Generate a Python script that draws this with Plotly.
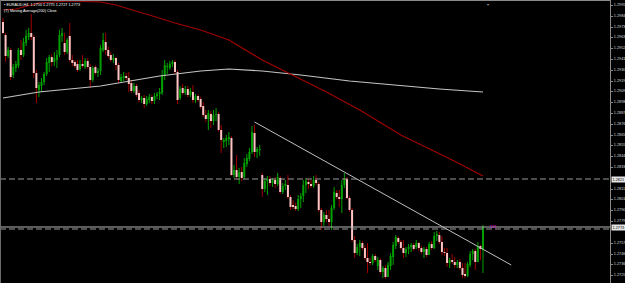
import plotly.graph_objects as go

# ---------------- data (EURAUD candles) ----------------
open_ = [1.2978,1.2965,1.2944,1.2950,1.2925,1.2932,1.2934,1.2950,1.2945,1.2957,1.2963,1.2967,1.2963,1.2927,1.2910,1.2914,1.2918,1.2926,1.2937,1.2943,1.2938,1.2940,1.2945,1.2964,1.2957,1.2948,1.2964,1.2940,1.2938,1.2936,1.2931,1.2936,1.2933,1.2939,1.2933,1.2920,1.2933,1.2927,
         1.2929,1.2950,1.2958,1.2950,1.2945,1.2940,1.2942,1.2935,1.2919,1.2922,1.2924,1.2922,1.2917,1.2909,1.2914,1.2907,1.2900,1.2902,1.2896,1.2900,1.2903,1.2899,1.2904,1.2906,1.2907,1.2924,1.2933,1.2932,1.2936,1.2938,1.2928,1.2902,1.2912,1.2907,1.2911,1.2905,1.2908,1.2900,1.2904,
         1.2901,1.2894,1.2885,1.2881,1.2886,1.2879,1.2885,1.2886,1.2870,1.2858,1.2859,1.2861,1.2862,1.2825,1.2830,1.2823,1.2828,1.2823,1.2836,1.2841,1.2848,1.2867,1.2848,1.2850,
         1.2825,1.2811,1.2819,1.2821,1.2817,1.2820,1.2816,1.2822,1.2808,1.2814,1.2815,1.2803,1.2795,1.2794,1.2791,1.2801,1.2804,1.2815,1.2818,1.2816,1.2814,1.2820,1.2816,1.2790,1.2778,1.2785,1.2781,
         1.2778,1.2792,1.2807,1.2803,1.2801,1.2815,1.2821,1.2802,1.2790,
         1.2760,1.2747,1.2753,1.2757,1.2752,1.2742,1.2738,1.2737,1.2744,1.2734,1.2740,1.2728,1.2732,1.2723,1.2734,1.2743,1.2754,
         1.2762,1.2758,1.2752,1.2747,1.2751,1.2753,1.2755,1.2753,1.2757,1.2752,1.2748,1.2751,1.2745,1.2756,1.2752,
         1.2764,1.2765,1.2758,1.2748,1.2747,1.2737,1.2740,1.2738,1.2735,1.2738,
         1.2732,1.2726,1.2724,1.2735,1.2746,1.2749,1.2738,1.2754,1.2750]

high = [1.2982,1.2967,1.2953,1.2952,1.2936,1.2939,1.2952,1.2960,1.2962,1.2970,1.2972,1.2986,1.2965,1.2930,1.2918,1.2922,1.2928,1.2942,1.2945,1.2946,1.2948,1.2950,1.2970,1.2972,1.2967,1.2962,1.2977,1.2945,1.2940,1.2940,1.2940,1.2945,1.2942,1.2942,1.2936,1.2934,1.2935,1.2932,
        1.2955,1.2967,1.2967,1.2953,1.2948,1.2946,1.2943,1.2937,1.2926,1.2928,1.2927,1.2928,1.2920,1.2917,1.2916,1.2910,1.2904,1.2905,1.2904,1.2906,1.2905,1.2907,1.2908,1.2912,1.2930,1.2940,1.2937,1.2939,1.2940,1.2940,1.2930,1.2914,1.2916,1.2914,1.2914,1.2912,1.2915,1.2906,1.2906,
        1.2903,1.2898,1.2890,1.2890,1.2889,1.2890,1.2892,1.2888,1.2875,1.2862,1.2865,1.2868,1.2864,1.2835,1.2845,1.2832,1.2833,1.2842,1.2846,1.2852,1.2874,1.2875,1.2853,1.2855,
        1.2827,1.2822,1.2824,1.2824,1.2822,1.2823,1.2827,1.2824,1.2817,1.2820,1.2825,1.2805,1.2800,1.2797,1.2805,1.2807,1.2820,1.2822,1.2821,1.2820,1.2824,1.2825,1.2818,1.2792,1.2788,1.2790,1.2790,
        1.2795,1.2813,1.2810,1.2810,1.2820,1.2827,1.2823,1.2804,1.2792,
        1.2764,1.2756,1.2760,1.2759,1.2755,1.2757,1.2742,1.2746,1.2746,1.2743,1.2742,1.2734,1.2735,1.2738,1.2747,1.2758,1.2765,
        1.2764,1.2760,1.2760,1.2753,1.2756,1.2757,1.2757,1.2760,1.2758,1.2754,1.2753,1.2753,1.2758,1.2759,1.2768,
        1.2769,1.2768,1.2764,1.2752,1.2752,1.2742,1.2746,1.2743,1.2740,1.2741,
        1.2737,1.2737,1.2738,1.2749,1.2751,1.2751,1.2758,1.2755,1.2775]

low = [1.2966,1.2938,1.2942,1.2920,1.2922,1.2928,1.2932,1.2940,1.2943,1.2954,1.2960,1.2960,1.2922,1.2897,1.2903,1.2908,1.2915,1.2924,1.2928,1.2934,1.2934,1.2932,1.2943,1.2958,1.2945,1.2946,1.2938,1.2934,1.2932,1.2928,1.2929,1.2932,1.2931,1.2931,1.2912,1.2918,1.2925,1.2923,
       1.2925,1.2948,1.2945,1.2942,1.2938,1.2937,1.2930,1.2917,1.2917,1.2919,1.2920,1.2908,1.2907,1.2907,1.2903,1.2898,1.2897,1.2892,1.2894,1.2897,1.2896,1.2896,1.2901,1.2900,1.2905,1.2920,1.2926,1.2930,1.2933,1.2926,1.2896,1.2900,1.2905,1.2905,1.2903,1.2903,1.2897,1.2897,1.2898,
       1.2891,1.2883,1.2878,1.2870,1.2872,1.2875,1.2879,1.2868,1.2847,1.2852,1.2853,1.2855,1.2824,1.2822,1.2821,1.2816,1.2819,1.2821,1.2833,1.2839,1.2846,1.2843,1.2842,1.2844,
       1.2803,1.2808,1.2805,1.2814,1.2813,1.2812,1.2814,1.2806,1.2806,1.2810,1.2801,1.2790,1.2791,1.2789,1.2789,1.2792,1.2798,1.2807,1.2811,1.2812,1.2812,1.2815,1.2788,1.2770,1.2774,1.2778,1.2774,
       1.2770,1.2790,1.2801,1.2793,1.2787,1.2812,1.2801,1.2788,1.2758,
       1.2742,1.2745,1.2744,1.2750,1.2740,1.2727,1.2735,1.2735,1.2738,1.2730,1.2726,1.2722,1.2721,1.2723,1.2730,1.2735,1.2751,
       1.2756,1.2750,1.2742,1.2743,1.2746,1.2748,1.2749,1.2751,1.2749,1.2746,1.2742,1.2743,1.2745,1.2750,1.2751,
       1.2759,1.2756,1.2745,1.2744,1.2733,1.2732,1.2736,1.2732,1.2732,1.2730,
       1.2722,1.2722,1.2723,1.2733,1.2740,1.2730,1.2738,1.2740,1.2727]

close = [1.2967,1.2944,1.2950,1.2923,1.2933,1.2936,1.2950,1.2945,1.2958,1.2964,1.2967,1.2963,1.2927,1.2912,1.2915,1.2918,1.2926,1.2938,1.2943,1.2938,1.2942,1.2945,1.2965,1.2967,1.2948,1.2960,1.2940,1.2937,1.2934,1.2930,1.2936,1.2934,1.2939,1.2933,1.2920,1.2932,1.2927,1.2929,
         1.2952,1.2960,1.2950,1.2944,1.2940,1.2942,1.2935,1.2920,1.2923,1.2924,1.2922,1.2916,1.2909,1.2914,1.2905,1.2900,1.2902,1.2896,1.2901,1.2903,1.2899,1.2904,1.2906,1.2908,1.2925,1.2935,1.2934,1.2936,1.2938,1.2928,1.2900,1.2911,1.2907,1.2911,1.2905,1.2909,1.2900,1.2904,1.2900,
         1.2893,1.2885,1.2881,1.2887,1.2879,1.2885,1.2886,1.2870,1.2860,1.2860,1.2862,1.2863,1.2825,1.2830,1.2823,1.2828,1.2822,1.2837,1.2842,1.2848,1.2868,1.2848,1.2851,1.2851,
         1.2811,1.2819,1.2821,1.2817,1.2820,1.2816,1.2823,1.2808,1.2814,1.2816,1.2803,1.2793,1.2793,1.2791,1.2801,1.2804,1.2815,1.2819,1.2816,1.2814,1.2820,1.2817,1.2790,1.2778,1.2785,1.2781,1.2778,
         1.2792,1.2808,1.2803,1.2801,1.2815,1.2821,1.2802,1.2790,1.2760,
         1.2747,1.2753,1.2757,1.2752,1.2742,1.2738,1.2737,1.2744,1.2740,1.2740,1.2728,1.2732,1.2723,1.2735,1.2744,1.2755,1.2763,
         1.2758,1.2752,1.2747,1.2751,1.2753,1.2755,1.2751,1.2757,1.2752,1.2748,1.2751,1.2745,1.2756,1.2752,1.2764,
         1.2766,1.2758,1.2748,1.2747,1.2737,1.2740,1.2738,1.2735,1.2738,1.2732,
         1.2725,1.2724,1.2736,1.2746,1.2749,1.2738,1.2754,1.2751,1.2773]

# moving averages (vertices at bar indices)
red_ma_idx = [0, 5, 14, 26, 38, 44, 57, 67, 77, 88, 101, 111, 120, 126, 139, 155, 175, 187]
red_ma = [1.2990, 1.2991, 1.2997, 1.2999, 1.2998, 1.2995, 1.2985, 1.2977, 1.2970, 1.2960,
          1.2940, 1.2927, 1.2915, 1.2908, 1.2890, 1.2865, 1.2840, 1.2824]
gray_ma_idx = [0, 14, 38, 61, 77, 88, 101, 116, 135, 155, 170, 187]
gray_ma = [1.2902, 1.2908, 1.2914, 1.2924, 1.2929, 1.2931, 1.2929, 1.2925, 1.2919, 1.2914, 1.2911, 1.2908]

# trendline and horizontal levels
trend_idx = [98, 198]
trend_price = [1.2878, 1.2735]
levels = [1.2821, 1.2771]
level_labels = ["1.2821", "1.2773"]

# price scale labels
tick_vals = [1.2995, 1.2984, 1.2973, 1.2963, 1.2952, 1.2941, 1.2930, 1.2919, 1.2909, 1.2898,
             1.2887, 1.2876, 1.2865, 1.2855, 1.2844, 1.2833, 1.2811, 1.2801, 1.2790, 1.2779,
             1.2757, 1.2746, 1.2736, 1.2725]
header_1 = "▪ EURAUD,H4  1.2750 1.2775 1.2727 1.2773"
header_2 = "(T) Moving Average(200) Close"

# ---------------- build ----------------
BULL = "#00a000"
BEAR_WICK = "#a00000"
BEAR_BODY = "#ffc4c4"

bw_x, bw_y, rw_x, rw_y = [], [], [], []
bb_x, bb_y, rb_x, rb_y = [], [], [], []
for i in range(len(close)):
    o, h, l, c = open_[i], high[i], low[i], close[i]
    if c >= o:
        bw_x += [i, i, None]; bw_y += [l, h, None]
        bb_x += [i, i, None]; bb_y += [o, c, None]
    else:
        rw_x += [i, i, None]; rw_y += [l, h, None]
        rb_x += [i, i, None]; rb_y += [o, c, None]

fig = go.Figure()
fig.add_trace(go.Scatter(x=rw_x, y=rw_y, mode="lines", line=dict(color=BEAR_WICK, width=1), hoverinfo="skip"))
fig.add_trace(go.Scatter(x=bw_x, y=bw_y, mode="lines", line=dict(color=BULL, width=1), hoverinfo="skip"))
fig.add_trace(go.Scatter(x=rb_x, y=rb_y, mode="lines", line=dict(color=BEAR_BODY, width=2), hoverinfo="skip"))
fig.add_trace(go.Scatter(x=bb_x, y=bb_y, mode="lines", line=dict(color=BULL, width=2), hoverinfo="skip"))
fig.add_trace(go.Scatter(x=gray_ma_idx, y=gray_ma, mode="lines", line=dict(color="#c4c4c4", width=1.2)))
fig.add_trace(go.Scatter(x=red_ma_idx, y=red_ma, mode="lines", line=dict(color="#a00000", width=1.2)))
fig.add_trace(go.Scatter(x=trend_idx, y=trend_price, mode="lines", line=dict(color="#bfbfbf", width=1)))

shapes = []
for lv in levels:
    shapes.append(dict(type="line", xref="paper", x0=0, x1=1, yref="y", y0=lv, y1=lv,
                       line=dict(color="#9a9a9a", width=1, dash="6px,3px")))
shapes.append(dict(type="line", xref="paper", x0=0, x1=1, yref="y", y0=close[-1], y1=close[-1],
                   line=dict(color="#b8b8b8", width=1)))
shapes.append(dict(type="line", xref="paper", x0=0, x1=1, yref="paper", y0=1, y1=1,
                   line=dict(color="#8a8a8a", width=2)))
shapes.append(dict(type="line", xref="paper", x0=0, x1=0, yref="paper", y0=0, y1=1,
                   line=dict(color="#6a6a6a", width=2)))

FONT = "Liberation Sans"
ann = [
    dict(xref="paper", yref="paper", x=0.004, y=1, yshift=-1, xanchor="left", yanchor="top",
         text=header_1, showarrow=False, font=dict(size=3.8, color="#ffffff", family=FONT)),
    dict(xref="paper", yref="paper", x=0.004, y=1, yshift=-7, xanchor="left", yanchor="top",
         text=header_2, showarrow=False, font=dict(size=3.8, color="#ffffff", family=FONT)),
    dict(xref="paper", yref="y", x=1, y=levels[0], xanchor="left", yanchor="middle", xshift=1,
         text=level_labels[0], showarrow=False, bgcolor="#e6e6e6", borderpad=0.5,
         font=dict(size=3.8, color="#000000", family=FONT)),
    dict(xref="paper", yref="y", x=1, y=close[-1], xanchor="left", yanchor="middle", xshift=1,
         text=level_labels[1], showarrow=False, bgcolor="#e6e6e6", borderpad=0.5,
         font=dict(size=3.8, color="#000000", family=FONT)),
    dict(xref="x", yref="y", x=191, y=close[-1], xanchor="center", yanchor="middle",
         text="171", showarrow=False, font=dict(size=3.8, color="#ff00ff", family=FONT)),
    dict(xref="x", yref="paper", x=189, y=1, xanchor="center", yanchor="top",
         text="▾", showarrow=False, font=dict(size=4, color="#9a9a9a", family=FONT)),
]

fig.update_layout(
    template="none",
    width=625, height=283,
    margin=dict(l=0, r=15, t=0, b=0),
    paper_bgcolor="#000000", plot_bgcolor="#000000",
    showlegend=False,
    shapes=shapes, annotations=ann,
    xaxis=dict(range=[-1.17, 236.48], visible=False, showgrid=False, zeroline=False, automargin=False),
    yaxis=dict(range=[1.2717, 1.3000], side="right", showgrid=False, zeroline=False, automargin=False,
               tickvals=tick_vals, ticktext=[f"{v:.4f}" for v in tick_vals],
               tickfont=dict(size=3.8, color="#d8d8d8", family=FONT),
               ticks="outside", ticklen=2, tickcolor="#8a8a8a",
               showline=True, linecolor="#8a8a8a", linewidth=1),
)

fig.write_html("out.html")
